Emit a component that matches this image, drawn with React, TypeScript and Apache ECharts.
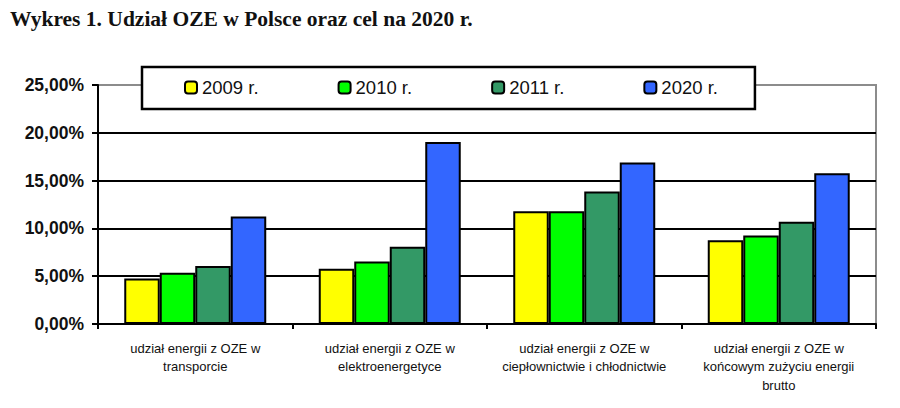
import React, { useEffect, useRef } from "react";
import * as echarts from "echarts";

const categories = [
  "udział energii z OZE w\ntransporcie",
  "udział energii z OZE w\nelektroenergetyce",
  "udział energii z OZE w\nciepłownictwie i chłodnictwie",
  "udział energii z OZE w\nkońcowym zużyciu energii\nbrutto",
];
const seriesNames = ["2009 r.", "2010 r.", "2011 r.", "2020 r."];
const values2009 = [4.76, 5.77, 11.8, 8.75];
const values2010 = [5.35, 6.53, 11.8, 9.27];
const values2011 = [6.07, 8.09, 13.85, 10.7];
const values2020 = [11.25, 19.03, 16.9, 15.76];
const colors = ["#FFFF00", "#00FF00", "#339966", "#3366FF"];
const yTicks = [0, 5, 10, 15, 20, 25];

const FONT = "'Liberation Sans', Arial, sans-serif";

export default function App() {
  const ref = useRef<HTMLDivElement>(null);
  useEffect(() => {
    document.body.style.margin = "0";
    if (!ref.current) return;
    const chart = echarts.init(ref.current, undefined, { renderer: "svg" });
    const allValues = [values2009, values2010, values2011, values2020];
    chart.setOption({
      animation: false,
      backgroundColor: "#ffffff",
      title: {
        text: "Wykres 1. Udział OZE w Polsce oraz cel na 2020 r.",
        left: 10,
        top: 8,
        padding: 0,
        textStyle: {
          fontFamily: "'Liberation Serif', 'Times New Roman', serif",
          fontWeight: "bold",
          fontSize: 21.5,
          color: "#111",
        },
      },
      legend: {
        left: 142,
        top: 67,
        orient: "horizontal",
        backgroundColor: "#ffffff",
        borderColor: "#000000",
        borderWidth: 2.5,
        padding: [11, 37, 12, 42],
        itemGap: 79,
        itemWidth: 12,
        itemHeight: 12,
        icon: "roundRect",
        data: seriesNames,
        textStyle: { fontFamily: FONT, fontSize: 18.5, color: "#111" },
      },
      grid: {
        left: 98,
        right: 24,
        top: 85,
        bottom: 84,
        show: true,
        borderColor: "#8c8c8c",
        borderWidth: 2,
        backgroundColor: "transparent",
      },
      xAxis: {
        type: "category",
        data: categories,
        axisLine: { lineStyle: { color: "#000", width: 2 } },
        axisTick: { show: true, length: 5, lineStyle: { color: "#000", width: 2 } },
        axisLabel: {
          interval: 0,
          margin: 15,
          fontFamily: FONT,
          fontSize: 13,
          lineHeight: 18.5,
          color: "#111",
          align: "center",
        },
      },
      yAxis: {
        type: "value",
        min: yTicks[0],
        max: yTicks[yTicks.length - 1],
        interval: 5,
        axisLine: { show: true, lineStyle: { color: "#000", width: 2 } },
        axisTick: { show: true, length: 6, lineStyle: { color: "#000", width: 2 } },
        splitLine: {
          show: true,
          lineStyle: {
            color: ["#000", "#000", "#000", "#000", "#000", "#8c8c8c"],
            width: 2,
          },
        },
        axisLabel: {
          margin: 14,
          fontFamily: FONT,
          fontWeight: "bold",
          fontSize: 17.5,
          color: "#111",
          formatter: (v: number) => v.toFixed(2).replace(".", ",") + "%",
        },
      },
      series: seriesNames.map((name, i) => ({
        name,
        type: "bar",
        data: allValues[i],
        barGap: "0%",
        barCategoryGap: "27%",
        itemStyle: { color: colors[i], borderColor: "#000", borderWidth: 2 },
      })),
    });
    return () => chart.dispose();
  }, []);
  return <div ref={ref} style={{ width: 900, height: 408 }} />;
}
